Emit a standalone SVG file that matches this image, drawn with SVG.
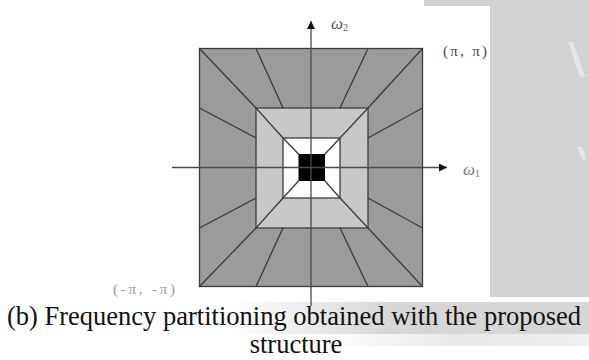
<svg xmlns="http://www.w3.org/2000/svg" width="589" height="360" viewBox="0 0 589 360">
<defs>
<style>
.edge{fill:none;stroke:#3c3c3c;stroke-width:1.3;stroke-linecap:round}
.axis{fill:none;stroke:#4a4a4a;stroke-width:1.3}
.lbl{font-family:"Liberation Serif","Times New Roman",serif}
.cap{font-family:"Liberation Serif","Times New Roman",serif;font-size:26.5px;fill:#111}
</style>
<linearGradient id="band1" x1="0" y1="0" x2="1" y2="0">
<stop offset="0" stop-color="#ffffff"/>
<stop offset="0.45" stop-color="#d6d6d6"/>
<stop offset="1" stop-color="#d6d6d6"/>
</linearGradient>
<linearGradient id="band2" x1="0" y1="0" x2="1" y2="0">
<stop offset="0" stop-color="#ffffff"/>
<stop offset="0.5" stop-color="#e8e8e8"/>
<stop offset="1" stop-color="#eeeeee"/>
</linearGradient>
<marker id="ah" viewBox="0 0 10 10" refX="10" refY="5" markerWidth="9" markerHeight="8" markerUnits="userSpaceOnUse" orient="auto">
<path d="M0,0 L10,5 L0,10 z" fill="#111"/>
</marker>
</defs>
<rect width="589" height="360" fill="#ffffff"/>
<g id="background">
<rect x="490" y="0" width="99" height="297" fill="#d4d3d4"/>
<rect x="424" y="0" width="66" height="6" fill="#d4d3d4"/>
<polygon points="568,42 573,42 585,76 580,77" fill="#e6e6e6"/>
<polygon points="577,147 582,147 587,159 583,160" fill="#e6e6e6"/>
<rect x="230" y="302" width="359" height="32" fill="url(#band1)"/>
<rect x="320" y="334" width="269" height="12" fill="url(#band2)"/>
</g>
<g id="regions">
<rect id="outer" x="199.5" y="48.5" width="223" height="238" fill="#9b9b9b"/>
<rect id="middle" x="256" y="108" width="112" height="120" fill="#c8c8c8"/>
<rect id="inner" x="283" y="138" width="57" height="60" fill="#ffffff"/>
<rect id="center" x="298.5" y="154" width="26.5" height="27" fill="#000000"/>
</g>
<g id="partition-lines">
<rect class="edge" x="199.5" y="48.5" width="223" height="238"/>
<rect class="edge" x="256" y="108" width="112" height="120"/>
<rect class="edge" x="283" y="138" width="57" height="60"/>
<path class="edge" d="M199.5,48.5 L256,108 M422.5,48.5 L368,108 M199.5,286.5 L256,228 M422.5,286.5 L368,228
M256,108 L283,138 M368,108 L340,138 M256,228 L283,198 M368,228 L340,198
M283,138 L298.5,154 M340,138 L325,154 M283,198 L298.5,181 M340,198 L325,181
M256,48.5 L283,108 M368,48.5 L340,108 M256,286.5 L283,228 M368,286.5 L340,228
M199.5,108 L256,138 M199.5,228 L256,198 M422.5,108 L368,138 M422.5,228 L368,198"/>
</g>
<g id="connectors">
<line class="axis" x1="172" y1="167.5" x2="447" y2="167.5" marker-end="url(#ah)"/>
<line class="axis" x1="311" y1="306" x2="311" y2="21" marker-end="url(#ah)"/>
</g>
<g id="labels">
<text class="lbl" x="331" y="29" font-size="17" font-style="italic" fill="#555">ω<tspan font-size="10" font-style="normal" dy="2">2</tspan></text>
<text class="lbl" x="463" y="175" font-size="17" font-style="italic" fill="#777">ω<tspan font-size="10" font-style="normal" dy="2">1</tspan></text>
<text class="lbl" x="443" y="55.5" font-size="15" fill="#444" textLength="44">(π, π)</text>
<text class="lbl" x="113" y="293.5" font-size="15" fill="#999" textLength="62">(-π, -π)</text>
</g>
<g id="caption">
<text class="cap" x="7" y="325">(b) Frequency partitioning obtained with the proposed</text>
<text class="cap" x="296" y="353" text-anchor="middle">structure</text>
</g>
</svg>
